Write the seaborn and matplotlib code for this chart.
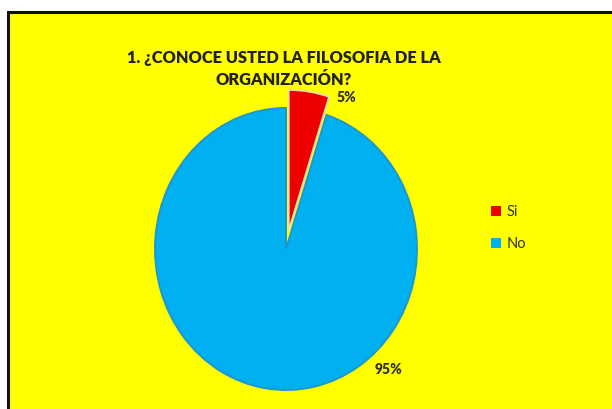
import matplotlib
matplotlib.use("Agg")
import matplotlib.pyplot as plt
import seaborn as sns
from matplotlib.patches import Rectangle

categories = ["Si", "No"]
values = [5, 95]
pct_labels = ["5%", "95%"]
title = "1. ¿CONOCE USTED LA FILOSOFIA DE LA\nORGANIZACIÓN?"

sns.set_theme(style="white")
plt.rcParams["font.family"] = ["Lato", "DejaVu Sans"]

colors = ["#EE0000", "#00B0F0"]
edges = ["#F0E0A0", "#1C98CC"]

W, H = 612, 409
fig = plt.figure(figsize=(W / 100, H / 100), dpi=100)
fig.patch.set_facecolor("white")
fig.patches.append(Rectangle((8 / W, -0.05), 1.1, (H - 12) / H + 0.05,
                             transform=fig.transFigure, facecolor="#FFFF00",
                             edgecolor="#111111", linewidth=2.2, zorder=-5))

ax = fig.add_axes([0, 0, 1, 1])
ax.set_facecolor("none")
ax.patch.set_visible(False)
wedges, _ = ax.pie(values, colors=colors, startangle=90, counterclock=False,
                   explode=[0.13, 0.0],
                   wedgeprops=dict(linewidth=1.4))
for w, e in zip(wedges, edges):
    w.set_edgecolor(e)
ax.set_aspect("auto")
cx, cy, rx, ry = 286, 249, 131, 141
ax.set_xlim(-cx / rx, (W - cx) / rx)
ax.set_ylim(-(H - cy) / ry, cy / ry)
ax.axis("off")

# percentage labels (Excel-style positions)
label_pos = [(0.458, 1.075), (0.779, -0.858)]
for (x, y), t in zip(label_pos, pct_labels):
    ax.text(x, y, t, ha="center", va="center", fontsize=10,
            fontweight="heavy", color="#333333")

fig.text(284 / W, 1 - 69 / H, title, ha="center", va="center",
         fontsize=11.8, fontweight="heavy", color="#222222", linespacing=1.45)

leg = ax.legend(wedges, categories, loc="center left",
                bbox_to_anchor=(478 / W, 1 - 228 / H),
                bbox_transform=fig.transFigure, frameon=False,
                handlelength=0.7, handleheight=0.7, handletextpad=0.35,
                labelspacing=1.2, fontsize=10.5)
for t in leg.get_texts():
    t.set_color("#333333")
for h in leg.legend_handles:
    h.set_edgecolor("none")

fig.savefig("out.png", dpi=100)
